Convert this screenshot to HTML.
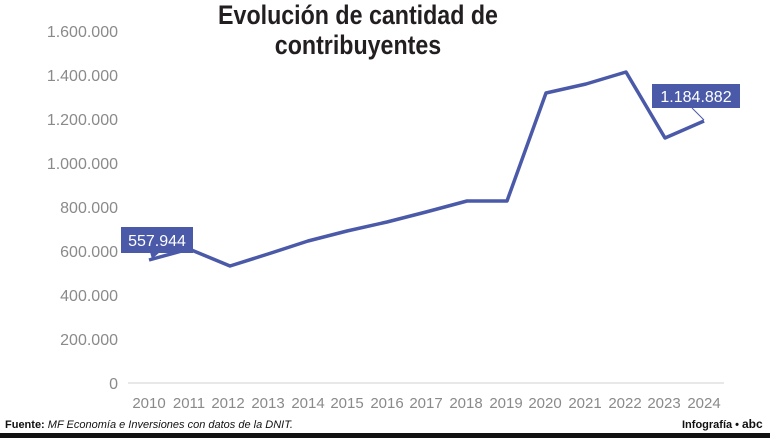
<!DOCTYPE html><html><head><meta charset="utf-8"><style>body{margin:0;width:770px;height:438px;background:#fff;overflow:hidden}</style></head><body>
<svg width="770" height="438" xmlns="http://www.w3.org/2000/svg" font-family="Liberation Sans, sans-serif">
<text x="358" y="24" text-anchor="middle" font-size="27" font-weight="bold" fill="#231f20" transform="translate(358 0) scale(0.86 1) translate(-358 0)">Evolución de cantidad de</text>
<text x="358" y="54" text-anchor="middle" font-size="27" font-weight="bold" fill="#231f20" transform="translate(358 0) scale(0.86 1) translate(-358 0)">contribuyentes</text>
<g font-size="16" fill="#8a8a8a" text-anchor="end">
<text x="118" y="389">0</text><text x="118" y="345">200.000</text><text x="118" y="301">400.000</text><text x="118" y="257">600.000</text><text x="118" y="213">800.000</text><text x="118" y="169">1.000.000</text><text x="118" y="125">1.200.000</text><text x="118" y="81">1.400.000</text><text x="118" y="37">1.600.000</text>
</g>
<line x1="128" y1="383" x2="724" y2="383" stroke="#d0d0d0"/>
<g font-size="15" fill="#8a8a8a" text-anchor="middle">
<text x="149" y="408">2010</text><text x="189" y="408">2011</text><text x="228" y="408">2012</text><text x="268" y="408">2013</text><text x="308" y="408">2014</text><text x="347" y="408">2015</text><text x="387" y="408">2016</text><text x="426" y="408">2017</text><text x="466" y="408">2018</text><text x="506" y="408">2019</text><text x="545" y="408">2020</text><text x="585" y="408">2021</text><text x="625" y="408">2022</text><text x="664" y="408">2023</text><text x="704" y="408">2024</text>
</g>
<polyline fill="none" stroke="#4a5aa8" stroke-width="3.5" stroke-linejoin="round" points="149,260 189,249 230,266 268,254 308,241 347,231 387,222 426,212 467,201 507,201 546,93 586,84 626,72 665,138 704,121"/>
<rect x="121" y="227" width="72" height="26" fill="#4a5aa8"/>
<polygon points="150,252 160,252 152,259" fill="#4a5aa8"/>
<text x="157" y="246" text-anchor="middle" font-size="16" fill="#fff">557.944</text>
<rect x="652" y="84" width="88" height="24" fill="#4a5aa8"/>
<line x1="692" y1="108" x2="704" y2="120" stroke="#4a5aa8" stroke-width="1"/>
<text x="696" y="102" text-anchor="middle" font-size="16" fill="#fff">1.184.882</text>
<text x="5" y="428" font-size="11" fill="#111"><tspan font-weight="bold">Fuente:</tspan> <tspan font-style="italic">MF Economía e Inversiones con datos de la DNIT.</tspan></text>
<text x="682" y="428" font-size="11" font-weight="bold" fill="#111">Infografía •</text>
<text x="742" y="428" font-size="12" font-weight="bold" fill="#111">abc</text>
<rect x="0" y="433" width="770" height="5" fill="#111"/>
</svg></body></html>
